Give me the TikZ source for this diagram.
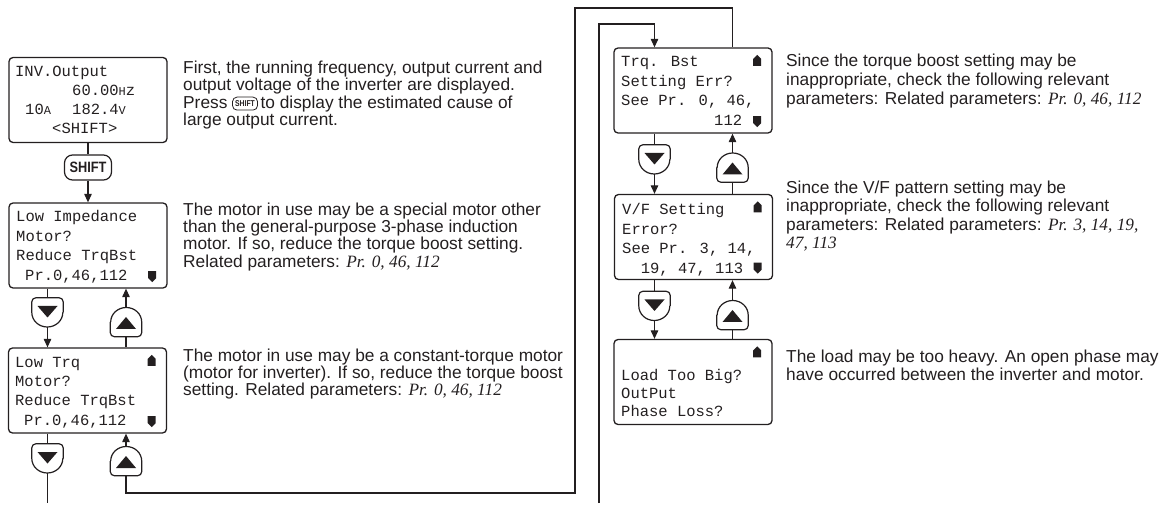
\documentclass[tikz,border=0pt]{standalone}
\usepackage{fontspec}
\usepackage{graphicx}
\setmainfont{Liberation Sans}
\newfontfamily\lcdfont{Liberation Mono}
\newfontfamily\tmsfont{Liberation Serif}
\usetikzlibrary{arrows.meta,calc}
\definecolor{ink}{RGB}{35,31,32}
\newcommand\textlines[6]{\foreach \linetxt [count=\i] in {#6} {\node[#1] (#2-\i) at (#3,{#4+(\i-1)*#5}) {\linetxt};}}
\newcommand\smallch[1]{{\fontsize{12}{12}\selectfont #1}}
\newcommand\prit[1]{{\tmsfont\itshape #1}}
\newcommand\upind[1]{\fill[ink] ($(#1.north east)+(-19.5,18.5)$) -- ++(0,-7) -- ++(4,-4) -- ++(4,4) -- ++(0,7) -- cycle;}
\newcommand\dnind[1]{\fill[ink] ($(#1.south east)+(-19.5,-17.5)$) -- ++(0,7) -- ++(4,4) -- ++(4,-4) -- ++(0,-7) -- cycle;}
\newcommand\dnbtn[1]{%
  \draw[btnline] (#1.east) [rounded corners=4pt] -- (#1.north east) -- (#1.north west) [sharp corners] -- (#1.west) arc[start angle=180, end angle=360, x radius=15.5pt, y radius=14.5pt];
  \fill[ink] ($(#1.center)+(-10,-6.5)$) -- ($(#1.center)+(10,-6.5)$) -- ($(#1.center)+(0,5)$) -- cycle;}
\newcommand\upbtn[1]{%
  \draw[btnline] (#1.west) [rounded corners=4pt] -- (#1.south west) -- (#1.south east) [sharp corners] -- (#1.east) arc[start angle=0, end angle=180, x radius=15.5pt, y radius=14.5pt];
  \fill[ink] ($(#1.center)+(-10,7)$) -- ($(#1.center)+(10,7)$) -- ($(#1.center)+(0,-5)$) -- cycle;}
\tikzset{
  lcdbox/.style={draw=ink, line width=1.3pt, rounded corners=4pt, minimum width=158pt, minimum height=85pt, inner sep=0pt},
  lcdtxt/.style={font=\lcdfont\fontsize{15.5}{19}\selectfont, inner sep=0pt, anchor=base west, text=ink},
  desc/.style={font=\fontsize{17.3}{19}\selectfont, inner sep=0pt, anchor=base west, text=ink},
  conn/.style={line width=1.1pt, draw=ink},
  arr/.style={conn, -{Triangle[length=8.5pt,width=7.5pt]}},
  btn/.style={minimum width=31pt, minimum height=29pt, inner sep=0pt},
  btnline/.style={line width=1.2pt, draw=ink},
  bigkey/.style={draw=ink, line width=1.2pt, rounded corners=8pt, minimum width=47pt, minimum height=25pt, inner sep=0pt,
    font=\fontsize{15}{15}\bfseries\selectfont, text=ink},
  smallkey/.style={draw=ink, line width=0.8pt, rounded corners=4.5pt, minimum width=25pt, minimum height=13pt, inner sep=0pt,
    font=\fontsize{8.5}{8.5}\bfseries\selectfont, text=ink},
}
\begin{document}
\begin{tikzpicture}[x=1pt,y=-1pt]
\useasboundingbox (0,0) rectangle (1163,505);

% ---------- LCD boxes ----------
\node[lcdbox] (b1) at (88,100) {};
\node[lcdbox] (b2) at (88,245.5) {};
\node[lcdbox] (b3) at (87.5,390.5) {};
\node[lcdbox] (b4) at (693,90.5) {};
\node[lcdbox] (b5) at (693.5,237) {};
\node[lcdbox] (b6) at (693,382) {};

% box 1 text
\node[lcdtxt] (t1a) at (15,77) {INV.Output};
\node[lcdtxt] (t1b) at (72,96) {60.00\smallch{H}z};
\node[lcdtxt] (t1c) at (25,115) {10\smallch{A}};
\node[lcdtxt] (t1d) at (72,115) {182.4\smallch{V}};
\node[lcdtxt] (t1e) at (52,134) {<SHIFT>};

% box 2 text
\textlines{lcdtxt}{t2}{16}{222}{19.4}{{Low Impedance},{Motor?},{Reduce TrqBst}}
\node[lcdtxt] (t2-4) at (25,280.2) {Pr.0,46,112};
\dnind{b2}

% box 3 text
\textlines{lcdtxt}{t3}{15}{367}{19.4}{{Low Trq},{Motor?},{Reduce TrqBst}}
\node[lcdtxt] (t3-4) at (24,425.2) {Pr.0,46,112};
\upind{b3}
\dnind{b3}

% box 4 text
\textlines{lcdtxt}{t4}{621}{67}{19.4}{{Trq. Bst},{Setting Err?},{See Pr. 0, 46,}}
\node[lcdtxt] (t4-4) at (714,125.2) {112};
\upind{b4}
\dnind{b4}

% box 5 text
\textlines{lcdtxt}{t5}{622}{215}{19.4}{{V/F Setting},{Error?},{See Pr. 3, 14,}}
\node[lcdtxt] (t5-4) at (640.6,273.2) {19, 47, 113};
\upind{b5}
\dnind{b5}

% box 6 text
\textlines{lcdtxt}{t6}{621}{380}{18}{{Load Too Big?},{OutPut},{Phase Loss?}}
\upind{b6}

% ---------- keys / buttons ----------
\node[bigkey] (shift) at (88,167.5) {\scalebox{0.85}[1]{SHIFT}};

\node[btn] (d1) at (47.5,312.5) {};
\node[btn] (u1) at (126,322) {};
\node[btn] (d2) at (47.5,458.5) {};
\node[btn] (u2) at (126,461) {};
\node[btn] (d3) at (654.5,159.5) {};
\node[btn] (u3) at (732.5,167.5) {};
\node[btn] (d4) at (654.5,306) {};
\node[btn] (u4) at (732.5,315) {};
\dnbtn{d1}\upbtn{u1}\dnbtn{d2}\upbtn{u2}
\dnbtn{d3}\upbtn{u3}\dnbtn{d4}\upbtn{u4}

% ---------- connectors ----------
\draw[conn] (b1.south) -- (shift.north);
\draw[arr] (shift.south) -- (b2.north);
\draw[conn] (d1.north |- b2.south) -- (d1.north);
\draw[arr] (d1.south) -- (d1.south |- b3.north);
\draw[arr] (u1.north) -- (u1.north |- b2.south);
\draw[conn] (u1.south) -- (u1.south |- b3.north);
\draw[conn] (d2.north |- b3.south) -- (d2.north);
\coordinate (endL) at (47.5,503);
\draw[conn] (d2.south) -- (endL);
\draw[arr] (u2.north) -- (u2.north |- b3.south);
\coordinate (loopB) at (575,493);
\coordinate (loopT) at (575,8);
\draw[conn] (u2.south) |- (loopB) -- (loopT) -| (u3.north |- b4.north);
\coordinate (startR) at (599,503);
\coordinate (cR) at (654.5,24);
\draw[arr] (startR) |- (cR) -- (cR |- b4.north);

\draw[conn] (d3.north |- b4.south) -- (d3.north);
\draw[arr] (d3.south) -- (d3.south |- b5.north);
\draw[arr] (u3.north) -- (u3.north |- b4.south);
\draw[conn] (u3.south) -- (u3.south |- b5.north);
\draw[conn] (d4.north |- b5.south) -- (d4.north);
\draw[arr] (d4.south) -- (d4.south |- b6.north);
\draw[arr] (u4.north) -- (u4.north |- b5.south);
\draw[conn] (u4.south) -- (u4.south |- b6.north);

% ---------- descriptions ----------
\textlines{desc}{e1}{183}{73.5}{17.3}{{First, the running frequency, output current and},{output voltage of the inverter are displayed.}}
\node[desc] (e1-3a) at (183,108.1) {Press};
\node[smallkey, anchor=west] (key) at ($(e1-3a.base east)+(4.5,-4.5)$) {\scalebox{0.8}[1]{SHIFT}};
\node[desc] (e1-3b) at ($(key.east |- e1-3a.base)+(2.5,0)$) {to display the estimated cause of};
\node[desc] (e1-4) at (183,125.4) {large output current.};

\textlines{desc}{e2}{183}{215.5}{17.2}{{The motor in use may be a special motor other},{than the general-purpose 3-phase induction},{motor. If so, reduce the torque boost setting.},{Related parameters: \prit{Pr. 0, 46, 112}}}

\textlines{desc}{e3}{183}{361.5}{17.2}{{The motor in use may be a constant-torque motor},{(motor for inverter). If so, reduce the torque boost},{setting. Related parameters: \prit{Pr. 0, 46, 112}}}

\textlines{desc}{e4}{786}{66.5}{19}{{Since the torque boost setting may be},{inappropriate, check the following relevant},{parameters: Related parameters: \prit{Pr. 0, 46, 112}}}

\textlines{desc}{e5}{786}{193.5}{18.4}{{Since the V/F pattern setting may be},{inappropriate, check the following relevant},{parameters: Related parameters: \prit{Pr. 3, 14, 19,}},{\prit{47, 113}}}

\textlines{desc}{e6}{786}{362.5}{17.5}{{The load may be too heavy. An open phase may},{have occurred between the inverter and motor.}}
\end{tikzpicture}
\end{document}
